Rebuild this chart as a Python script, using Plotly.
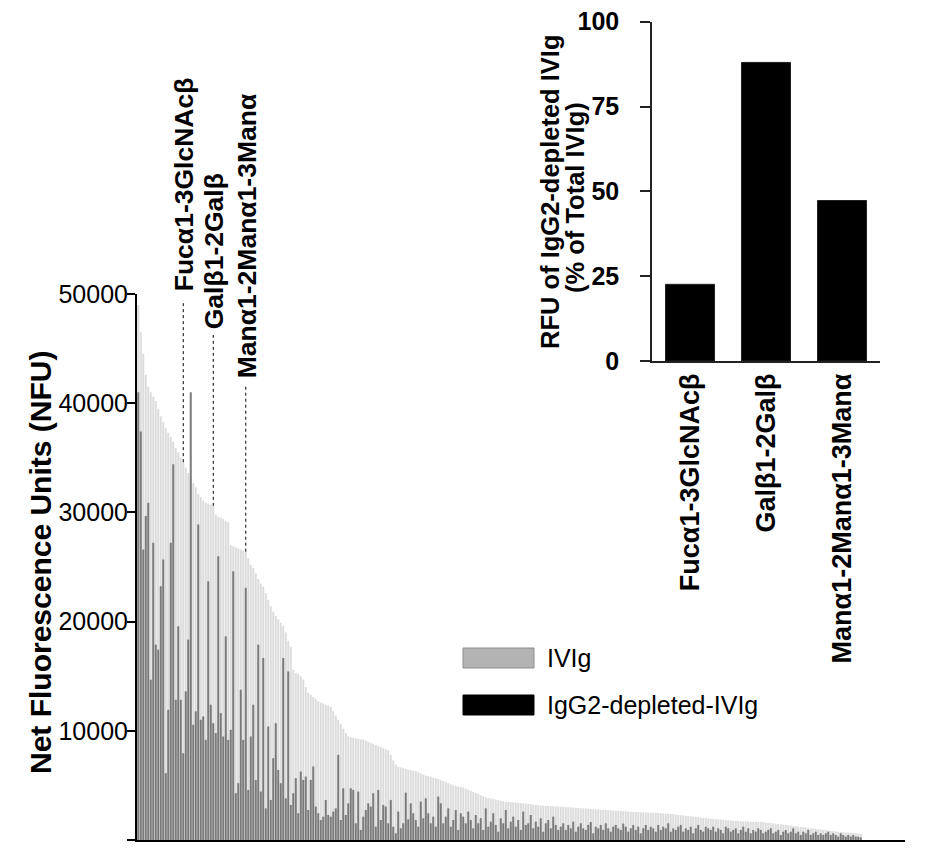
import plotly.graph_objects as go

W, H = 947, 848

# ---------------- data ----------------
ivig = [
    49000, 46500, 44500, 42600, 41500, 41000, 40600, 40200, 39500, 38800,
    38300, 37700, 37300, 36900, 36500, 35900, 35500, 35000, 34600, 34100,
    33600, 33200, 32700, 32300, 31700, 31400, 31100, 30900, 30800, 30700,
    30600, 29800, 29600, 29500, 29400, 29200, 29100, 27000, 26900, 26800,
    26700, 26600, 26500, 26400, 25800, 25200, 24900, 24400, 23900, 23500,
    23200, 22600, 22000, 21400, 20900, 20500, 20200, 19900, 19600, 19000,
    18200, 17700, 15600, 15300, 15200, 15000, 14700, 14000, 13500, 13300,
    13100, 12900, 12700, 12600, 12500, 12400, 12300, 12200, 11800, 11400,
    11000, 10600, 10200, 9800, 9500, 9400, 9350, 9300, 9250, 9200,
    9200, 9100, 9000, 8900, 8800, 8700, 8600, 8500, 8400, 8300,
    8200, 7800, 7300, 6900, 6700, 6650, 6600, 6500, 6450, 6400,
    6350, 6300, 6200, 6100, 6000, 5900, 5850, 5800, 5700, 5650,
    5600, 5500, 5400, 5300, 5200, 5100, 5000, 4950, 4900, 4850,
    4800, 4700, 4600, 4500, 4400, 4300, 4200, 4100, 4000, 3900,
    3850, 3800, 3750, 3700, 3650, 3600, 3550, 3500, 3480, 3460,
    3440, 3420, 3400, 3380, 3360, 3340, 3320, 3300, 3250, 3200,
    3180, 3160, 3140, 3120, 3100, 3090, 3080, 3070, 3060, 3050,
    3030, 3010, 3000, 2990, 2970, 2950, 2930, 2910, 2900, 2880,
    2860, 2840, 2820, 2800, 2790, 2780, 2770, 2750, 2730, 2710,
    2700, 2690, 2670, 2650, 2640, 2620, 2600, 2590, 2570, 2560,
    2550, 2540, 2530, 2520, 2510, 2500, 2490, 2480, 2470, 2460,
    2440, 2420, 2400, 2380, 2360, 2330, 2300, 2270, 2250, 2220,
    2200, 2170, 2140, 2110, 2080, 2050, 2020, 2000, 1970, 1950,
    1930, 1910, 1890, 1870, 1850, 1830, 1810, 1790, 1770, 1750,
    1730, 1720, 1710, 1700, 1690, 1680, 1670, 1660, 1650, 1640,
    1620, 1600, 1580, 1550, 1530, 1500, 1470, 1440, 1410, 1380,
    1350, 1320, 1290, 1260, 1230, 1200, 1170, 1140, 1110, 1080,
    1050, 1020, 990, 960, 930, 900, 870, 840, 810, 780,
    760, 740, 720, 700, 680, 660, 640, 620, 600, 580,
]

igg2_depleted = [
    41000, 37400, 26600, 29660, 30890, 14680, 27220, 17890, 17430, 23240,
    25690, 6120, 11930, 27220, 34400, 12840, 19570, 12840, 7950, 13610,
    18350, 41000, 10550, 11780, 28900, 11010, 11320, 9170, 23700, 12390,
    10700, 9790, 25990, 11620, 9480, 18650, 9170, 10090, 24620, 4280,
    5200, 13760, 9170, 23090, 4590, 9480, 12390, 5500, 17890, 4440,
    16670, 2900, 10400, 3670, 7490, 10700, 6420, 5200, 16670, 3820,
    15440, 3210, 4280, 5660, 2450, 6270, 5500, 5810, 2750, 5500,
    6730, 3060, 2450, 1830, 2140, 3670, 2290, 2140, 2600, 2900,
    7800,
    1830, 4740, 2290, 3360, 4740, 4590, 1530, 4430, 920, 2140,
    2750, 3360, 3060, 4280, 1220, 4590, 1830, 3210, 3060, 1530,
    3670, 1220, 610, 2600, 1070, 1530, 4340, 1890, 3360, 2450,
    1830, 1220, 3520, 1990, 3820, 2450, 1530, 2140, 1220, 3980,
    3360, 1530, 2140, 2900, 1220, 1830, 2750, 920, 2450, 2140,
    1530, 2600, 1830, 1070, 2290, 1530, 2000, 920, 2900, 1220,
    1680, 2450, 1380, 760, 1990, 1530, 2750, 1070, 1680, 2140,
    1220, 1830, 920, 2600, 1380, 1530, 2290, 1070, 1680, 1220,
    1990, 760, 1530, 1830, 1070, 2140, 1380, 920,
    1220, 1530, 920, 1380, 1070, 1680, 760, 1220, 1530, 1070, 920, 1380,
    1650, 610, 1220, 1070, 1380, 920, 1530, 1070, 760, 1220, 1380, 1070,
    920, 1500, 1220, 760, 1070, 1380, 920, 1220, 610, 1070, 1380, 920,
    1220, 1070, 760, 1380, 920, 1220, 1070, 1530, 760, 1070, 920, 1220,
    1380, 760, 1070, 920, 1220, 610, 1070, 1380, 920, 760, 1220, 1070,
    920, 1220, 760, 1070, 920, 610, 1220, 1070, 760, 920, 1070, 610,
    920, 1220, 760, 1070, 610, 920, 760, 1070, 920, 610, 760, 920,
    1070, 610, 760, 920, 460, 760, 920, 610, 760, 1070, 610, 760,
    460, 760, 610, 920, 460, 610, 760, 460, 610, 460, 610, 760,
    460, 610, 460, 310, 610, 460, 310, 460, 310, 460, 310, 300, 250,
]

series_names = ["IVIg", "IgG2-depleted-IVIg"]

glycans = ["Fucα1-3GlcNAcβ", "Galβ1-2Galβ", "Manα1-2Manα1-3Manα"]
glycan_bar_index = [18, 30, 43]
pct_of_total = [22.6, 88.0, 47.3]

main_yticks = [0, 10000, 20000, 30000, 40000, 50000]
inset_yticks = [0, 25, 50, 75, 100]

# ---------------- helpers (pixel -> paper) ----------------
def px(x):
    return x / W


def py(y):
    return 1 - y / H


FONT = "Liberation Sans, Arial, Helvetica, sans-serif"
idx = list(range(len(ivig)))

fig = go.Figure()
fig.add_trace(go.Bar(x=idx, y=ivig, name=series_names[0],
                     marker=dict(color="#dcdcdc", line=dict(width=0)),
                     xaxis="x", yaxis="y", showlegend=False))
fig.add_trace(go.Bar(x=idx, y=igg2_depleted, name=series_names[1],
                     marker=dict(color="#7a7a7a", line=dict(width=0)),
                     xaxis="x", yaxis="y", showlegend=False))
fig.add_trace(go.Bar(x=glycans, y=pct_of_total, width=0.645,
                     marker=dict(color="black", line=dict(color="#222", width=1)),
                     xaxis="x2", yaxis="y2", showlegend=False))

shapes = []
annotations = []

# dotted leader lines + labels for the three glycans
line_tops = [49450, 46245, 41667]
label_bottoms_px = [293, 331, 380]
for name, bi, top, lb in zip(glycans, glycan_bar_index, line_tops, label_bottoms_px):
    shapes.append(dict(type="line", xref="x", yref="y", x0=bi, x1=bi,
                       y0=ivig[bi], y1=top,
                       line=dict(color="black", width=1, dash="dot")))
    annotations.append(dict(text=name, xref="x", yref="paper", x=bi, y=py(lb),
                            xanchor="center", yanchor="bottom", textangle=-90,
                            showarrow=False, xshift=1,
                            font=dict(family=FONT, size=26.5, color="black", weight="bold")))

# legend drawn as swatches
shapes.append(dict(type="rect", xref="paper", yref="paper",
                   x0=px(463), x1=px(534), y0=py(668), y1=py(648),
                   fillcolor="#b3b3b3", line=dict(color="#8c8c8c", width=1)))
shapes.append(dict(type="rect", xref="paper", yref="paper",
                   x0=px(463), x1=px(534), y0=py(715), y1=py(695),
                   fillcolor="black", line=dict(color="black", width=1)))
annotations.append(dict(text=series_names[0], xref="paper", yref="paper",
                        x=px(545), y=py(658), xanchor="left", yanchor="middle",
                        showarrow=False, font=dict(family=FONT, size=25, color="black")))
annotations.append(dict(text=series_names[1], xref="paper", yref="paper",
                        x=px(545), y=py(705), xanchor="left", yanchor="middle",
                        showarrow=False, font=dict(family=FONT, size=25, color="black")))

# axis titles
annotations.append(dict(text="Net Fluorescence Units (NFU)", xref="paper", yref="paper",
                        x=px(40), y=py(563), xanchor="center", yanchor="middle",
                        textangle=-90, showarrow=False,
                        font=dict(family=FONT, size=30, color="black", weight="bold")))
annotations.append(dict(text="RFU of IgG2-depleted IVIg", xref="paper", yref="paper",
                        x=px(550), y=py(192), xanchor="center", yanchor="middle",
                        textangle=-90, showarrow=False,
                        font=dict(family=FONT, size=25.5, color="black", weight="bold")))
annotations.append(dict(text="(% of Total IVIg)", xref="paper", yref="paper",
                        x=px(575), y=py(198), xanchor="center", yanchor="middle",
                        textangle=-90, showarrow=False,
                        font=dict(family=FONT, size=25.5, color="black", weight="bold")))

fig.update_layout(
    width=W, height=H, template="none",
    margin=dict(l=0, r=0, t=0, b=0, autoexpand=False),
    paper_bgcolor="white", plot_bgcolor="rgba(0,0,0,0)",
    barmode="overlay", bargap=0.2,
    font=dict(family=FONT, color="black"),
    xaxis=dict(domain=[px(137), px(905)], range=[-0.5, 306.7], anchor="y",
               showline=True, linecolor="black", linewidth=2,
               showticklabels=False, ticks="", showgrid=False, zeroline=False),
    yaxis=dict(domain=[py(840), py(294)], range=[0, 50000], anchor="x",
               tickvals=main_yticks, ticktext=[str(v) for v in main_yticks],
               ticks="outside", ticklen=8, tickwidth=1.5, tickcolor="black",
               showline=True, linecolor="black", linewidth=2,
               showgrid=False, zeroline=False, ticklabelstandoff=-6,
               tickfont=dict(family=FONT, size=25, color="black")),
    xaxis2=dict(domain=[px(652), px(880)], range=[-0.5, 2.5], anchor="y2",
                type="category", tickangle=-90, ticks="",
                showline=True, linecolor="#222", linewidth=1.5,
                showgrid=False, zeroline=False, ticklabelstandoff=0,
                tickfont=dict(family=FONT, size=27, color="black", weight="bold")),
    yaxis2=dict(domain=[py(361), py(21.7)], range=[0, 100], anchor="x2",
                tickvals=inset_yticks, ticks="outside", ticklen=10, tickwidth=1.5,
                tickcolor="#222", showline=True, linecolor="#222", linewidth=1.5,
                showgrid=False, zeroline=False, ticklabelstandoff=16,
                tickfont=dict(family=FONT, size=25, color="black", weight="bold")),
    shapes=shapes, annotations=annotations,
)

fig.write_html(
    "out.html",
    config={"displayModeBar": False},
    post_script="document.body.style.margin='0';document.body.style.padding='0';",
)
